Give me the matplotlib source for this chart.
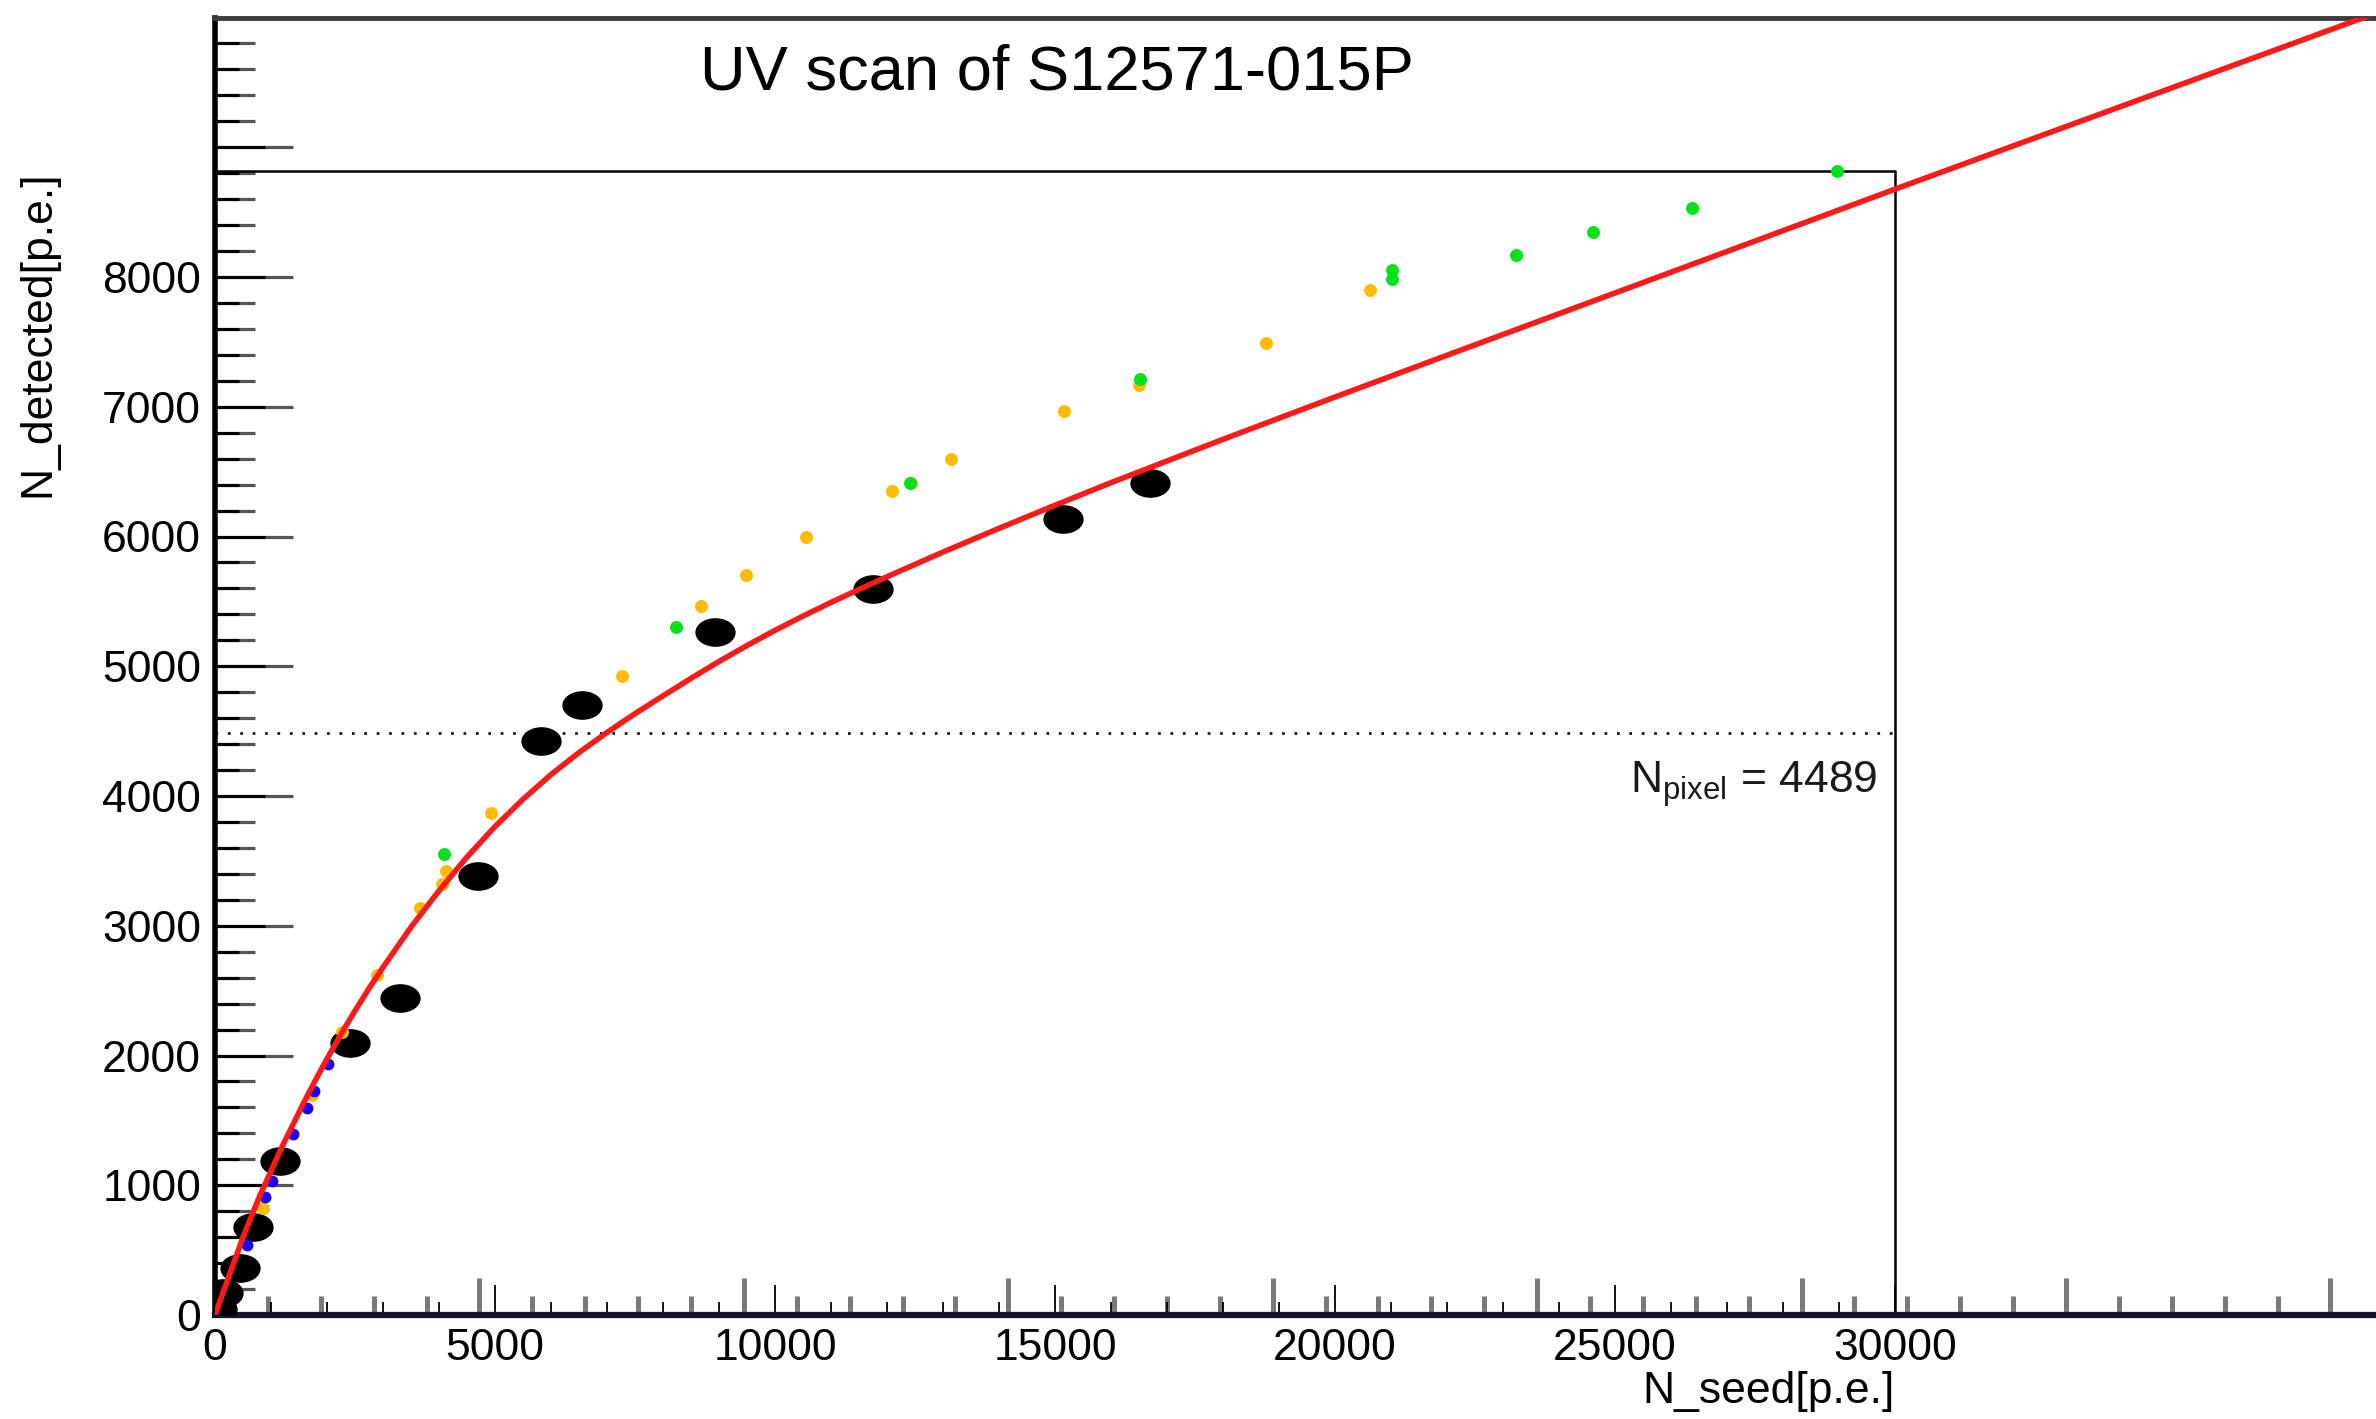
import matplotlib
matplotlib.use('Agg')
import matplotlib.pyplot as plt
from matplotlib.path import Path
from matplotlib.transforms import Affine2D, blended_transform_factory
from matplotlib.ticker import MultipleLocator, FixedLocator, NullFormatter

plt.rcParams['font.family'] = ['Liberation Sans', 'DejaVu Sans']

# black points (big ellipses)
seed_black = [30, 150, 450, 680, 1160, 2410, 3300, 4700, 5815, 6550, 8920, 11755, 15150, 16700]
det_black = [50, 170, 360, 680, 1185, 2095, 2443, 3385, 4425, 4698, 5265, 5594, 6138, 6415]

# orange points
seed_orange = [850, 1726, 2262, 2887, 3660, 4061, 4125, 4937, 7270, 8684, 9480, 10550,
               12096, 12430, 13145, 15160, 16493, 18764, 20625]
det_orange = [825, 1696, 2184, 2620, 3137, 3322, 3424, 3872, 4923, 5466, 5707, 5994,
              6354, 6410, 6596, 6968, 7168, 7491, 7900]

# green points
seed_green = [4085, 8232, 12415, 16520, 21020, 21020, 23230, 24615, 26380, 28970]
det_green = [3550, 5302, 6410, 7214, 8052, 7986, 8169, 8350, 8532, 8820]

# blue points
seed_blue = [566, 893, 1012, 1393, 1649, 1768, 2024]
det_blue = [540, 912, 1035, 1393, 1598, 1726, 1934]

# red fit curve
fit_seed = [0, 200, 500, 800, 1200, 1600, 1800, 2000, 2250, 2500, 2750, 3000, 3500, 4000,
            4500, 5000, 5500, 6000, 6500, 7000, 7500, 8000, 8500, 9000, 9500, 10000, 10500,
            11000, 11500, 12000, 13000, 14000, 15000, 16000, 18000, 20000, 22000, 24000,
            26000, 28000, 30000, 32000, 34000, 36000, 38600]
fit_det = [0, 240, 600, 920, 1300, 1650, 1815, 1975, 2165, 2345, 2517, 2680, 2990, 3270,
           3530, 3765, 3975, 4165, 4335, 4490, 4635, 4772, 4907, 5037, 5160, 5277, 5387,
           5492, 5592, 5690, 5880, 6063, 6241, 6415, 6749, 7075, 7397, 7717,
           8037, 8357, 8677, 8993, 9309, 9625, 10036]

N_PIXEL = 4489
BOX_X = 30000       # inner frame (range of the original histogram)
BOX_Y = 8820
X_MAX = 38590
Y_MAX = 10000
GRAY_STEP = 4722    # tick spacing of the underlying scan image

fig = plt.figure(figsize=(23.76, 14.19), dpi=100)
pos = [215 / 2376, 104 / 1419, (2376 - 215) / 2376, 1297.5 / 1419]

# gray ticks from the underlying picture
ax2 = fig.add_axes(pos)
ax2.set_xlim(0, X_MAX)
ax2.set_ylim(0, Y_MAX)
ax2.patch.set_visible(False)
for s in ax2.spines.values():
    s.set_visible(False)
ax2.xaxis.set_major_locator(MultipleLocator(GRAY_STEP))
ax2.xaxis.set_minor_locator(MultipleLocator(GRAY_STEP / 5))
ax2.yaxis.set_major_locator(MultipleLocator(1000))
ax2.yaxis.set_minor_locator(MultipleLocator(200))
ax2.xaxis.set_major_formatter(NullFormatter())
ax2.yaxis.set_major_formatter(NullFormatter())
ax2.tick_params(axis='x', which='major', direction='in', length=27, width=3.6, color='#7a7a7a')
ax2.tick_params(axis='x', which='minor', direction='in', length=13.5, width=3.6, color='#7a7a7a')
ax2.tick_params(axis='y', which='major', direction='in', length=56, width=2.3, color='#555555')
ax2.tick_params(axis='y', which='minor', direction='in', length=29, width=2.3, color='#555555')

ax = fig.add_axes(pos)
ax.set_zorder(2)
ax.patch.set_visible(False)
ax.set_xlim(0, X_MAX)
ax.set_ylim(0, Y_MAX)

ellipse = Path.unit_circle().transformed(Affine2D().scale(1, 0.7))
ax.plot(seed_black, det_black, ls='none', marker=ellipse, ms=28, color='black', zorder=3)
ax.plot(seed_orange, det_orange, ls='none', marker='o', ms=9.3, mew=0, color='#ffbb00', zorder=4)
ax.plot(seed_blue, det_blue, ls='none', marker='o', ms=8.5, mew=0, color='#1a00ff', zorder=4)
ax.plot(seed_green, det_green, ls='none', marker='o', ms=9.3, mew=0, color='#00e21a', zorder=5)
ax.plot(fit_seed, fit_det, color='#ff1a1a', lw=4, zorder=6, solid_capstyle='round',
        solid_joinstyle='round')

# inner frame and pixel line
ax.plot([0, BOX_X, BOX_X], [BOX_Y, BOX_Y, 0], color='black', lw=1.8, zorder=2)
ax.plot([0, BOX_X], [N_PIXEL, N_PIXEL], color='black', lw=1.9, ls=(0, (1, 3.7)), zorder=2)
ax.text(29680, 4023, r'N$_{\mathregular{pixel}}$ = %d' % N_PIXEL, fontsize=32,
        color='#1a1a1a', ha='right', va='baseline')

ax.text(15030, 9572, 'UV scan of S12571-015P', fontsize=45.5, ha='center', va='center')

# axes
ax.spines['right'].set_visible(False)
ax.spines['left'].set_linewidth(4)
ax.spines['left'].set_color('black')
ax.spines['bottom'].set_linewidth(4.5)
ax.spines['bottom'].set_color('#14142b')
ax.spines['top'].set_linewidth(3.5)
ax.spines['top'].set_color('#3c3c3c')

ax.xaxis.set_major_locator(FixedLocator(range(0, BOX_X + 1, 5000)))
ax.xaxis.set_minor_locator(FixedLocator(range(0, BOX_X + 1, 1000)))
ax.yaxis.set_major_locator(FixedLocator(range(0, 9001, 1000)))
ax.yaxis.set_minor_locator(FixedLocator(range(0, 9801, 200)))
ax.set_yticklabels([str(v) if v <= 8000 else '' for v in range(0, 9001, 1000)])
ax.tick_params(axis='x', which='major', direction='in', length=21.6, width=1.3, color='black',
               labelsize=32, pad=9)
ax.tick_params(axis='x', which='minor', direction='in', length=9.4, width=1.3, color='black')
ax.tick_params(axis='y', which='major', direction='in', length=36, width=2.2, color='black',
               labelsize=32, pad=10)
ax.tick_params(axis='y', which='minor', direction='in', length=17, width=2.2, color='black')

ax.text(BOX_X, 0.0197, 'N_seed[p.e.]', fontsize=32, ha='right', va='center',
        transform=blended_transform_factory(ax.transData, fig.transFigure))
ax.text(0.016, BOX_Y, 'N_detected[p.e.]', fontsize=32, rotation=90, ha='center', va='top',
        transform=blended_transform_factory(fig.transFigure, ax.transData))

fig.savefig('out.png', dpi=100)
